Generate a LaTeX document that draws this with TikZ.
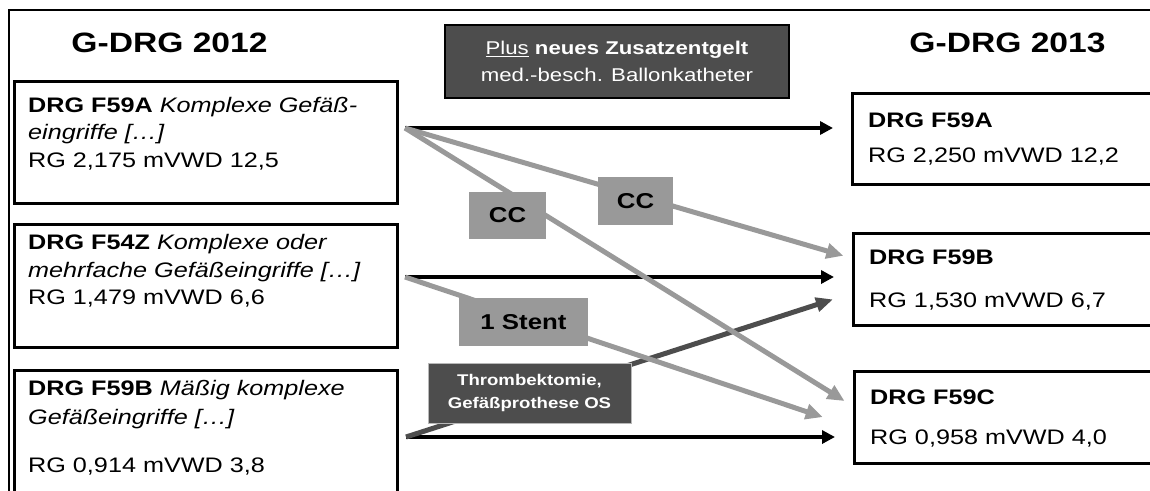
\documentclass[tikz,border=0pt]{standalone}
\usepackage{fontspec}
\setmainfont{Liberation Sans}[FakeStretch=1.2]
\usetikzlibrary{arrows.meta,calc}

\definecolor{ccgrey}{HTML}{999999}
\definecolor{opgrey}{HTML}{4D4D4D}

\tikzset{
	drgbox/.style={draw, line width=2.5pt, anchor=north west, inner sep=0pt},
	oldbox/.style={drgbox, minimum width=383pt},
	newbox/.style={drgbox, minimum width=320pt},
	drgtext/.style={anchor=north west, inner sep=0pt, align=left, font=\fontsize{21}{27.5}\selectfont},
	ccbox/.style={fill=ccgrey, inner sep=0pt, font=\fontsize{21.5}{26}\selectfont\bfseries},
	opbox/.style={fill=opgrey, draw=ccgrey!70, line width=1pt, text=white, align=center, inner sep=0pt},
	blackarrow/.style={line width=3.5pt, -{Triangle[length=13pt,width=13pt]}, shorten >=18pt},
	ccarrow/.style={ccgrey, line width=5pt, -{Triangle[length=17pt,width=15pt]}},
	oparrow/.style={opgrey, line width=5pt, -{Triangle[length=17pt,width=14pt]}}
}

\begin{document}
\begin{tikzpicture}[x=1pt, y=-1pt]
	\useasboundingbox (0,0) rectangle (1150,490);
	\clip (0,0) rectangle (1150,490);
	% frame
	\draw[line width=2pt] (9,500) -- (9,10) -- (1160,10);
	% headings
	\node[font=\fontsize{28}{32}\selectfont\bfseries] (year12) at (169.5,43) {G-DRG 2012};
	\node[font=\fontsize{28}{32}\selectfont\bfseries] (year13) at (1007.5,43) {G-DRG 2013};
	\node[opbox, draw=black, line width=1.5pt, minimum width=344pt, minimum height=73pt,
		font=\fontsize{18.5}{27}\selectfont] (plus) at (617,61.5)
		{\underline{Plus} \textbf{neues Zusatzentgelt}\\med.-besch. Ballonkatheter};
	% DRGs 2012
	\node[oldbox, minimum height=122pt] (f59a12) at (13,80) {};
	\node[oldbox, minimum height=123pt] (f54z12) at (13,223) {};
	\node[oldbox, minimum height=140pt] (f59b12) at (13,369) {};
	\node[drgtext] (f59a12txt) at ([xshift=15pt, yshift=-17pt]f59a12.north west)
		{\textbf{DRG F59A} \textit{Komplexe Gefäß-}\\\textit{eingriffe […]}\\RG 2,175 mVWD 12,5};
	\node[drgtext] (f54z12txt) at ([xshift=15pt, yshift=-11.5pt]f54z12.north west)
		{\textbf{DRG F54Z} \textit{Komplexe oder}\\\textit{mehrfache Gefäßeingriffe […]}\\RG 1,479 mVWD 6,6};
	\node[drgtext] (f59b12txt) at ([xshift=15pt, yshift=-11pt]f59b12.north west)
		{\textbf{DRG F59B} \textit{Mäßig komplexe}\\[1.5pt]\textit{Gefäßeingriffe […]}\\[20.5pt]RG 0,914 mVWD 3,8};
	% DRGs 2013
	\node[newbox, minimum height=91pt] (f59a13) at (851,92) {};
	\node[newbox, minimum height=92pt] (f59b13) at (852,232) {};
	\node[newbox, minimum height=92pt] (f59c13) at (853,370) {};
	\node[drgtext] (f59a13txt) at ([xshift=17pt, yshift=-20.5pt]f59a13.north west)
		{\textbf{DRG F59A}\\[7.5pt]RG 2,250 mVWD 12,2};
	\node[drgtext] (f59b13txt) at ([xshift=17pt, yshift=-17.5pt]f59b13.north west)
		{\textbf{DRG F59B}\\[15.5pt]RG 1,530 mVWD 6,7};
	\node[drgtext] (f59c13txt) at ([xshift=17pt, yshift=-19.5pt]f59c13.north west)
		{\textbf{DRG F59C}\\[12.5pt]RG 0,958 mVWD 4,0};
	% start points
	\coordinate (s1) at (405,128);
	\coordinate (s2) at (405,277);
	\coordinate (s3) at (406,437);
	% unchanged
	\draw[blackarrow] (s1) -- (s1 -| f59a13.west);
	\draw[blackarrow] (s2) -- (s2 -| f59b13.west);
	\draw[blackarrow] (s3) -- (s3 -| f59c13.west);
	% upgrade
	\draw[oparrow, shorten >=20pt] (s3) -- ([yshift=-14pt]f59b13.west);
	% downgrades
	\draw[ccarrow, shorten >=9pt] (s1) -- ([yshift=21pt]f59b13.west);
	\draw[ccarrow, shorten >=10pt] (s1) -- ([yshift=11pt]f59c13.west);
	\draw[ccarrow, shorten >=32pt] (s2) -- ([yshift=-10pt]f59c13.west);
	% labels on the lines
	\node[ccbox, minimum width=77pt, minimum height=47pt] (cc1) at (507.5,215.5) {CC};
	\node[ccbox, minimum width=75pt, minimum height=48pt] (cc2) at (635.5,201) {CC};
	\node[ccbox, minimum width=129pt, minimum height=48pt] (stent) at (523.5,322) {1 Stent};
	\node[opbox, minimum width=203pt, minimum height=60pt,
		font=\fontsize{15.5}{23}\selectfont\bfseries] (thromb) at (529.5,393)
		{Thrombektomie,\\Gefäßprothese OS};
\end{tikzpicture}
\end{document}
